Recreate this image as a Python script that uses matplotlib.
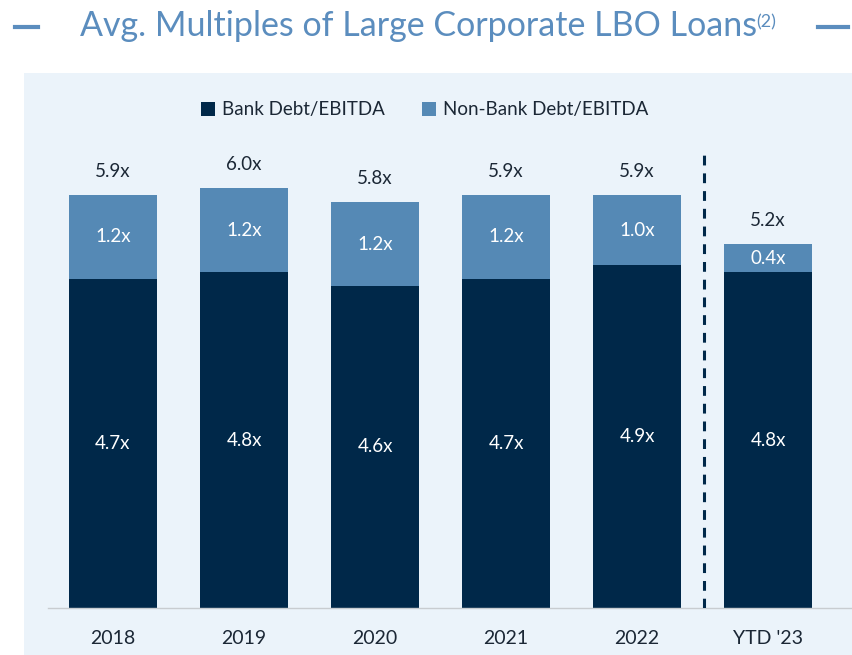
import numpy as np
import matplotlib.pyplot as plt
from matplotlib.patches import Rectangle

years = ["2018", "2019", "2020", "2021", "2022", "YTD '23"]
bank = [4.7, 4.8, 4.6, 4.7, 4.9, 4.8]
nonbank = [1.2, 1.2, 1.2, 1.2, 1.0, 0.4]
total = [5.9, 6.0, 5.8, 5.9, 5.9, 5.2]

dark = "#002849"
light = "#5589B5"
title_col = "#5B8DBE"
panel_col = "#EBF3FA"
txt_col = "#1B2735"

plt.rcParams['font.family'] = ['Lato', 'DejaVu Sans']

W, H = 853, 655
fig = plt.figure(figsize=(W / 100, H / 100), dpi=100)

# light panel behind the chart
fig.patches.append(Rectangle((24 / W, 0), 1, (H - 73) / H, transform=fig.transFigure,
                             facecolor=panel_col, edgecolor="none", zorder=-5))

ax = fig.add_axes([48 / W, (H - 608) / H, 804 / W, 535 / H])
ax.set_facecolor("none")
x = np.arange(len(years))
w = 0.67
b1 = ax.bar(x, bank, w, color=dark, label="Bank Debt/EBITDA", zorder=2)
b2 = ax.bar(x, nonbank, w, bottom=bank, color=light, label="Non-Bank Debt/EBITDA", zorder=2)

fs = 13.5
for i in range(len(years)):
    ax.text(x[i], bank[i] / 2, f"{bank[i]:.1f}x", ha="center", va="center",
            color="white", fontsize=fs)
    ax.text(x[i], bank[i] + nonbank[i] / 2, f"{nonbank[i]:.1f}x", ha="center", va="center",
            color="white", fontsize=fs)
    ax.text(x[i], bank[i] + nonbank[i] + 0.34, f"{total[i]:.1f}x", ha="center", va="center",
            color=txt_col, fontsize=fs)

ax.set_xlim(-0.496, 5.64)
ax.set_ylim(0, 535 / 70)
ax.axvline(4.51, ymin=0, ymax=(608 - 148) / 535, color=dark, lw=2.2,
           linestyle=(0, (3.2, 2.6)), zorder=3)

for s in ["top", "right", "left"]:
    ax.spines[s].set_visible(False)
ax.spines["bottom"].set_color("#C8CCD0")
ax.spines["bottom"].set_linewidth(1)
ax.set_yticks([])
ax.set_xticks(x)
ax.set_xticklabels(years, fontsize=14, color=txt_col)
ax.tick_params(axis="x", length=0, pad=16)

leg = fig.legend(handles=[b1, b2], loc="center", bbox_to_anchor=(425 / W, 1 - 110 / H),
                 ncol=2, frameon=False, fontsize=fs, handlelength=0.7, handleheight=0.7,
                 handletextpad=0.4, columnspacing=2.0)
for t in leg.get_texts():
    t.set_color(txt_col)

# title with superscript and side dashes
ttl = fig.text(80 / W, 1 - 36 / H, "Avg. Multiples of Large Corporate LBO Loans",
               ha="left", va="baseline", fontsize=24.5, color=title_col)
fig.canvas.draw()
bb = ttl.get_window_extent()
fig.text((bb.x1 - 1) / W, 1 - 27 / H, "(2)", ha="left", va="baseline", fontsize=13, color=title_col)
fig.add_artist(plt.Line2D([15 / W, 38 / W], [1 - 27 / H] * 2, color=title_col, lw=3))
fig.add_artist(plt.Line2D([818 / W, 848 / W], [1 - 27 / H] * 2, color=title_col, lw=3))

fig.savefig("out.png", dpi=100)
